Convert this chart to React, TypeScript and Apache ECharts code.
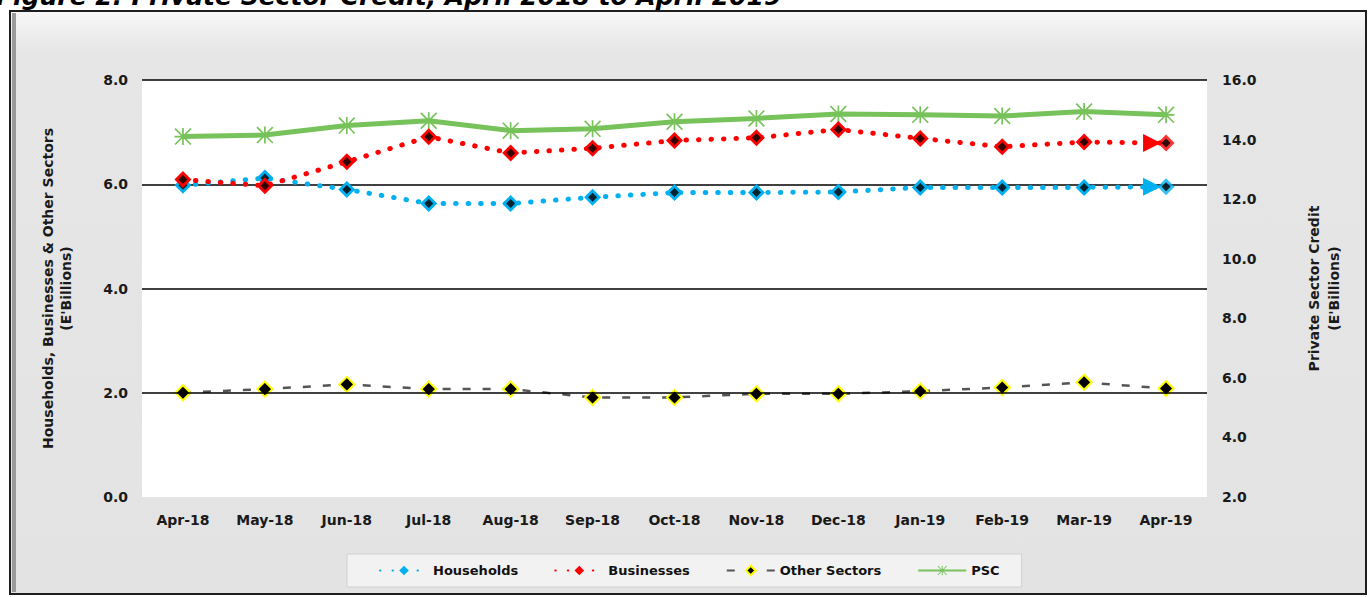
import React, { useEffect, useRef } from "react";
import * as echarts from "echarts";

const titleText = "Figure 2: Private Sector Credit, April 2018 to April 2019";
const months = ["Apr-18", "May-18", "Jun-18", "Jul-18", "Aug-18", "Sep-18", "Oct-18", "Nov-18", "Dec-18", "Jan-19", "Feb-19", "Mar-19", "Apr-19"];
const households = [5.98, 6.12, 5.9, 5.63, 5.63, 5.75, 5.84, 5.84, 5.85, 5.94, 5.94, 5.94, 5.95];
const businesses = [6.09, 5.97, 6.43, 6.91, 6.6, 6.69, 6.84, 6.89, 7.05, 6.88, 6.72, 6.81, 6.79];
const otherSectors = [2.0, 2.07, 2.16, 2.07, 2.07, 1.91, 1.91, 1.98, 1.98, 2.03, 2.1, 2.2, 2.08];
const psc = [14.1, 14.15, 14.47, 14.63, 14.3, 14.36, 14.6, 14.71, 14.86, 14.83, 14.79, 14.94, 14.83];
const gridValues = [2, 4, 6, 8];
const leftAxisName = "Households, Businesses & Other Sectors\n(E'Billions)";
const rightAxisName = "Private Sector Credit\n(E'Billions)";

const FONT = "DejaVu Sans";
const BLUE = "#00b0f0";
const RED = "#ff0000";
const GREEN = "#77c25a";
const ASTERISK =
  "path://M9,0 L11,0 L11,20 L9,20 Z M0,9 L20,9 L20,11 L0,11 Z M0,1.4 L1.4,0 L20,18.6 L18.6,20 Z M18.6,0 L20,1.4 L1.4,20 L0,18.6 Z";

function lineWithArrow(values: number[], size: number) {
  const last = values.length - 1;
  return values.map((v, i) =>
    i === last
      ? { value: v, symbol: "triangle", symbolRotate: -90, symbolSize: size, symbolOffset: [-14, 0] }
      : { value: v }
  );
}

export default function App() {
  const ref = useRef<HTMLDivElement>(null);
  useEffect(() => {
    if (!ref.current) return;
    const chart = echarts.init(ref.current, null, { renderer: "svg" });
    const last = months.length - 1;
    const option: any = {
      animation: false,
      backgroundColor: "#ffffff",
      graphic: [
        {
          type: "rect",
          z: -10,
          shape: { x: 10, y: 11, width: 1356, height: 583 },
          style: {
            fill: {
              type: "linear", x: 0, y: 0, x2: 0, y2: 1,
              colorStops: [
                { offset: 0, color: "#f7f7f7" },
                { offset: 0.07, color: "#e6e6e6" },
                { offset: 1, color: "#e3e3e3" },
              ],
            },
            stroke: "#1e1e1e",
            lineWidth: 2,
          },
        },
        {
          type: "rect",
          z: -9,
          shape: { x: 12, y: 13, width: 4, height: 579 },
          style: { fill: "#9a9a9a" },
        },
        {
          type: "text",
          x: -4,
          y: 9,
          z: 10,
          style: {
            text: titleText,
            fill: "#000",
            font: "italic bold 25px 'DejaVu Sans'",
            textAlign: "left",
            textVerticalAlign: "bottom",
          },
        },
      ],
      grid: {
        left: 142,
        right: 161,
        top: 80,
        bottom: 100,
        show: true,
        backgroundColor: "#ffffff",
        borderWidth: 0,
      },
      legend: {
        bottom: 10,
        left: 347,
        data: ["Households", "Businesses", "Other Sectors", "PSC"],
        backgroundColor: "#f2f2f2",
        borderColor: "#d0d0d0",
        borderWidth: 1,
        padding: [10, 22, 10, 32],
        itemGap: 36,
        itemWidth: 48,
        itemHeight: 12,
        textStyle: { fontFamily: FONT, fontSize: 13, fontWeight: "bold", color: "#111" },
      },
      xAxis: {
        type: "category",
        data: months,
        boundaryGap: true,
        axisLine: { show: false },
        axisTick: { show: false },
        axisLabel: { margin: 16, fontFamily: FONT, fontSize: 14, fontWeight: "bold", color: "#1a1a1a" },
      },
      yAxis: [
        {
          type: "value",
          min: 0,
          max: 8,
          interval: 2,
          position: "left",
          axisLine: { show: false },
          axisTick: { show: false },
          splitLine: { show: false },
          axisLabel: { margin: 14, formatter: (v: number) => v.toFixed(1), fontFamily: FONT, fontSize: 14, fontWeight: "bold", color: "#1a1a1a" },
          name: leftAxisName,
          nameLocation: "middle",
          nameRotate: 90,
          nameGap: 67,
          nameTextStyle: { fontFamily: FONT, fontSize: 14, fontWeight: "bold", color: "#1a1a1a", lineHeight: 18 },
        },
        {
          type: "value",
          min: 2,
          max: 16,
          interval: 2,
          position: "right",
          axisLine: { show: false },
          axisTick: { show: false },
          splitLine: { show: false },
          axisLabel: { margin: 15, formatter: (v: number) => v.toFixed(1), fontFamily: FONT, fontSize: 14, fontWeight: "bold", color: "#1a1a1a" },
          name: rightAxisName,
          nameLocation: "middle",
          nameRotate: 90,
          nameGap: 97,
          nameTextStyle: { fontFamily: FONT, fontSize: 14, fontWeight: "bold", color: "#1a1a1a", lineHeight: 20 },
        },
      ],
      series: [
        {
          name: "grid",
          type: "line",
          yAxisIndex: 0,
          z: 1,
          data: [],
          silent: true,
          markLine: {
            silent: true,
            symbol: "none",
            label: { show: false },
            lineStyle: { color: "#000", width: 1.6, type: "solid" },
            data: gridValues.map((v) => ({ yAxis: v })),
          },
        },
        {
          name: "PSC",
          type: "line",
          yAxisIndex: 1,
          z: 3,
          data: psc,
          symbol: ASTERISK,
          symbolSize: 17,
          itemStyle: { color: GREEN },
          lineStyle: { color: GREEN, width: 5 },
        },
        {
          name: "Other Sectors",
          type: "line",
          yAxisIndex: 0,
          z: 4,
          data: otherSectors,
          symbol: "diamond",
          symbolSize: 15,
          itemStyle: { color: "#000", borderColor: "#ffff00", borderWidth: 2 },
          lineStyle: { color: "#555", width: 2.5, type: [8, 12] },
        },
        {
          name: "Households",
          type: "line",
          yAxisIndex: 0,
          z: 6,
          data: lineWithArrow(households, 18),
          symbol: "diamond",
          symbolSize: 17,
          itemStyle: { color: BLUE },
          lineStyle: { color: BLUE, width: 5, type: [0.5, 12], cap: "round" },
        },
        {
          name: "Households",
          type: "scatter",
          yAxisIndex: 0,
          z: 7,
          silent: true,
          data: households.map((v, i) => (i === last ? v : null)),
          symbol: "diamond",
          symbolSize: 17,
          itemStyle: { color: BLUE },
        },
        {
          name: "Households",
          type: "scatter",
          yAxisIndex: 0,
          z: 8,
          silent: true,
          data: households,
          symbol: "diamond",
          symbolSize: 9,
          itemStyle: { color: "#000" },
        },
        {
          name: "Businesses",
          type: "line",
          yAxisIndex: 0,
          z: 9,
          data: lineWithArrow(businesses, 18),
          symbol: "diamond",
          symbolSize: 17,
          itemStyle: { color: RED },
          lineStyle: { color: RED, width: 5, type: [0.5, 12], cap: "round" },
        },
        {
          name: "Businesses",
          type: "scatter",
          yAxisIndex: 0,
          z: 10,
          silent: true,
          data: businesses.map((v, i) => (i === last ? v : null)),
          symbol: "diamond",
          symbolSize: 17,
          itemStyle: { color: RED },
        },
        {
          name: "Businesses",
          type: "scatter",
          yAxisIndex: 0,
          z: 11,
          silent: true,
          data: businesses,
          symbol: "diamond",
          symbolSize: 9,
          itemStyle: { color: "#000" },
        },
      ],
    };
    chart.setOption(option);
    return () => chart.dispose();
  }, []);
  return (
    <div
      ref={ref}
      style={{ position: "absolute", left: 0, top: 0, width: 1368, height: 597 }}
    />
  );
}
